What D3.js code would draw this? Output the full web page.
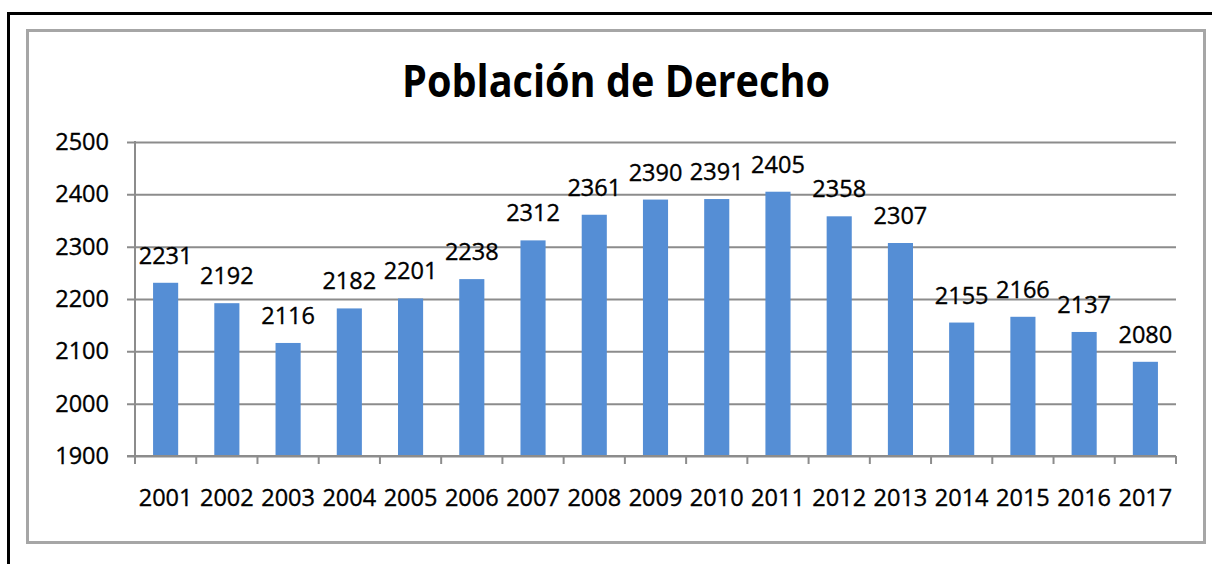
<!DOCTYPE html>
<html>
<head>
<meta charset="utf-8">
<script src="https://d3js.org/d3.v7.min.js"></script>
<style>
    html, body {
        margin: 0;
        padding: 0;
        background: #fff;
    }
    svg text {
        font-family: "Open Sans", "Liberation Sans", sans-serif;
    }
    .num {
        stroke: #000;
        stroke-width: 0.35px;
    }
</style>
</head>
<body>
<script>
    // data
    var years = ["2001", "2002", "2003", "2004", "2005", "2006", "2007", "2008", "2009",
                 "2010", "2011", "2012", "2013", "2014", "2015", "2016", "2017"];
    var poblacion = [2231, 2192, 2116, 2182, 2201, 2238, 2312, 2361, 2390,
                     2391, 2405, 2358, 2307, 2155, 2166, 2137, 2080];
    var yTicks = [1900, 2000, 2100, 2200, 2300, 2400, 2500];
    var titulo = "Población de Derecho";

    var width = 1212, height = 564;
    var plotLeft = 135, plotRight = 1176, plotTop = 142, plotBottom = 456;
    var fs = 23.5;

    var svg = d3.select("body").append("svg")
        .attr("width", width)
        .attr("height", height);

    // outer black frame (runs off right/bottom edge)
    svg.append("rect")
        .attr("x", 8.5).attr("y", 13.5)
        .attr("width", 1220).attr("height", 600)
        .attr("fill", "none")
        .attr("stroke", "#000")
        .attr("stroke-width", 3);

    // gray chart border
    svg.append("rect")
        .attr("x", 27.5).attr("y", 30.5)
        .attr("width", 1177).attr("height", 512)
        .attr("fill", "#fff")
        .attr("stroke", "#a6a6a6")
        .attr("stroke-width", 3);

    svg.append("text")
        .attr("x", 616)
        .attr("y", 97)
        .attr("text-anchor", "middle")
        .attr("font-size", 45)
        .attr("font-weight", "bold")
        .attr("textLength", 428)
        .attr("lengthAdjust", "spacingAndGlyphs")
        .text(titulo);

    var x = d3.scaleBand()
        .domain(years)
        .range([plotLeft, plotRight])
        .paddingInner(0.59)
        .paddingOuter(0.295);

    var y = d3.scaleLinear()
        .domain([1900, 2500])
        .range([plotBottom, plotTop]);

    // gridlines + y axis
    var yAxis = svg.append("g")
        .attr("transform", "translate(" + plotLeft + ",0)")
        .call(d3.axisLeft(y).tickValues(yTicks).tickSize(8).tickPadding(18).tickFormat(d3.format("d")));
    yAxis.select(".domain").remove();
    yAxis.attr("font-family", null).attr("font-size", null);
    yAxis.selectAll(".tick line")
        .attr("x1", -8).attr("x2", plotRight - plotLeft)
        .attr("stroke", "#8c8c8c").attr("stroke-width", 2);
    yAxis.selectAll(".tick text")
        .attr("class", "num")
        .attr("font-size", fs)
        .attr("fill", "#000");

    svg.append("line")
        .attr("x1", plotLeft).attr("x2", plotLeft)
        .attr("y1", plotTop - 1).attr("y2", plotBottom)
        .attr("stroke", "#8c8c8c").attr("stroke-width", 2);

    // bars
    svg.selectAll("rect.bar")
        .data(poblacion)
        .enter().append("rect")
        .attr("class", "bar")
        .attr("x", function (d, i) { return x(years[i]); })
        .attr("y", function (d) { return y(d); })
        .attr("width", x.bandwidth())
        .attr("height", function (d) { return y(1900) - y(d); })
        .attr("fill", "#558ed5");

    // value labels
    svg.selectAll("text.val")
        .data(poblacion)
        .enter().append("text")
        .attr("class", "val num")
        .attr("x", function (d, i) { return x(years[i]) + x.bandwidth() / 2; })
        .attr("y", function (d) { return y(d) - 19; })
        .attr("text-anchor", "middle")
        .attr("font-size", fs)
        .text(function (d) { return d; });

    // x axis
    var step = x.step();
    svg.append("line")
        .attr("x1", plotLeft - 8).attr("x2", plotRight)
        .attr("y1", plotBottom).attr("y2", plotBottom)
        .attr("stroke", "#8c8c8c").attr("stroke-width", 2);
    svg.selectAll("line.xtick")
        .data(d3.range(years.length + 1))
        .enter().append("line")
        .attr("class", "xtick")
        .attr("x1", function (i) { return plotLeft + i * step; })
        .attr("x2", function (i) { return plotLeft + i * step; })
        .attr("y1", plotBottom).attr("y2", plotBottom + 8)
        .attr("stroke", "#8c8c8c").attr("stroke-width", 2);
    svg.selectAll("text.xlab")
        .data(years)
        .enter().append("text")
        .attr("class", "xlab num")
        .attr("x", function (d) { return x(d) + x.bandwidth() / 2; })
        .attr("y", 506)
        .attr("text-anchor", "middle")
        .attr("font-size", fs)
        .text(function (d) { return d; });
</script>
</body>
</html>
